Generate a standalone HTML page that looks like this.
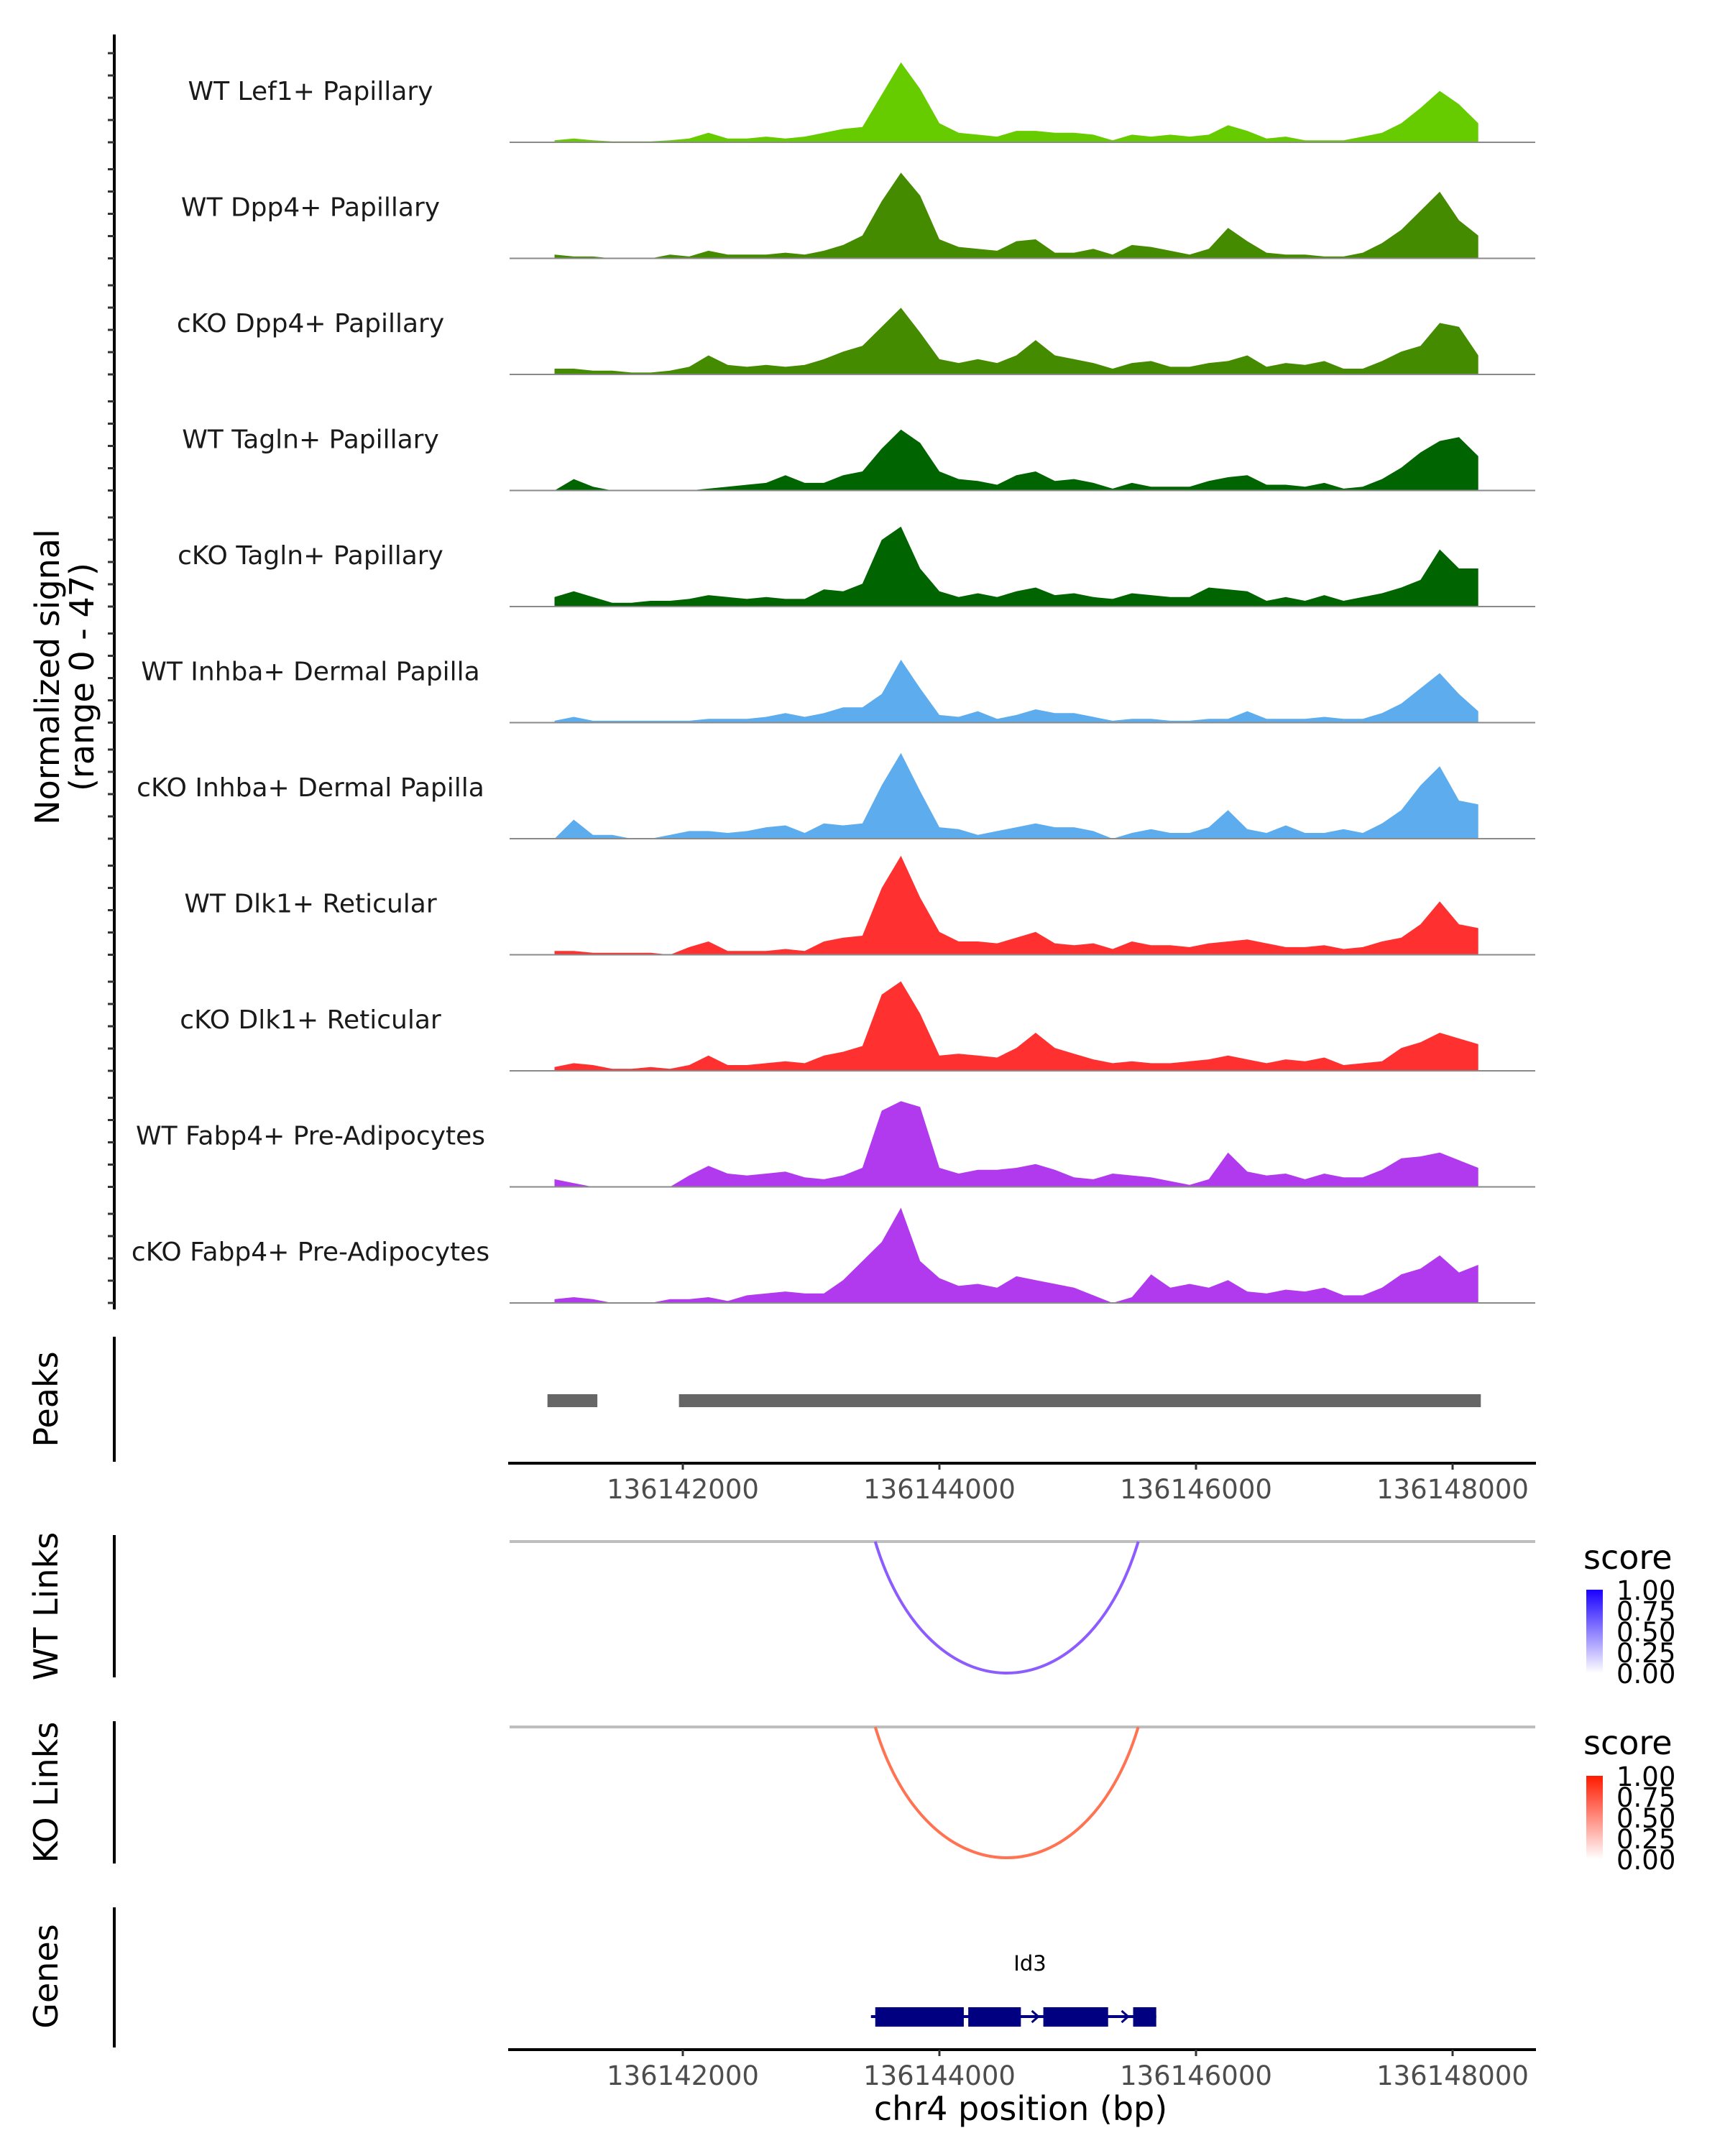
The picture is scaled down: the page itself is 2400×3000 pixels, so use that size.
<!DOCTYPE html>
<html><head><meta charset="utf-8"><style>
html,body{margin:0;padding:0;background:#fff;}
svg{display:block;font-family:"DejaVu Sans","Liberation Sans",sans-serif;}
</style></head><body>
<svg id="fig" width="2400" height="3000" viewBox="0 0 2400 3000" xmlns="http://www.w3.org/2000/svg">
<g id="tracks"></g>
<g id="yaxis"></g>
<text transform="translate(82,942) rotate(-90)" text-anchor="middle" font-size="46" fill="#000">Normalized signal</text>
<text transform="translate(130,942) rotate(-90)" text-anchor="middle" font-size="46" fill="#000">(range 0 - 47)</text>

<g id="peaks">
<line x1="159" y1="1860" x2="159" y2="2034" stroke="#000" stroke-width="4"/>
<text transform="translate(80,1947) rotate(-90)" text-anchor="middle" font-size="46">Peaks</text>
</g>
<g id="xaxis1"></g>

<g id="wtlinks">
<line x1="159" y1="2136" x2="159" y2="2334" stroke="#000" stroke-width="4"/>
<text transform="translate(80,2235) rotate(-90)" text-anchor="middle" font-size="46">WT Links</text>
<line x1="709" y1="2145" x2="2136" y2="2145" stroke="#bebebe" stroke-width="4"/>
</g>
<g id="kolinks">
<line x1="159" y1="2395" x2="159" y2="2593" stroke="#000" stroke-width="4"/>
<text transform="translate(80,2494) rotate(-90)" text-anchor="middle" font-size="46">KO Links</text>
<line x1="709" y1="2403" x2="2136" y2="2403" stroke="#bebebe" stroke-width="4"/>
</g>

<defs>
<linearGradient id="gblue" x1="0" y1="1" x2="0" y2="0"><stop offset="0" stop-color="#ffffff"/><stop offset="1" stop-color="#1a00ff"/></linearGradient>
<linearGradient id="gred" x1="0" y1="1" x2="0" y2="0"><stop offset="0" stop-color="#ffffff"/><stop offset="1" stop-color="#ff1a00"/></linearGradient>
</defs>
<g>
<text x="2203" y="2183" font-size="46">score</text>
<rect x="2207" y="2212" width="23" height="116" fill="url(#gblue)"/>
<g font-size="37" fill="#000">
<text x="2249" y="2226">1.00</text><text x="2249" y="2255">0.75</text><text x="2249" y="2284">0.50</text><text x="2249" y="2313">0.25</text><text x="2249" y="2342">0.00</text>
</g>
</g>
<g>
<text x="2203" y="2441" font-size="46">score</text>
<rect x="2207" y="2471" width="23" height="116" fill="url(#gred)"/>
<g font-size="37" fill="#000">
<text x="2249" y="2485">1.00</text><text x="2249" y="2514">0.75</text><text x="2249" y="2543">0.50</text><text x="2249" y="2572">0.25</text><text x="2249" y="2601">0.00</text>
</g>
</g>

<g id="genes">
<line x1="159" y1="2654" x2="159" y2="2849" stroke="#000" stroke-width="4"/>
<text transform="translate(80,2750) rotate(-90)" text-anchor="middle" font-size="46">Genes</text>
</g>
<g id="xaxis2"></g>
<text x="1420" y="2950" text-anchor="middle" font-size="46">chr4 position (bp)</text>
</svg>
<script>
const binStart = 136141000;
const binStep = 150;
const trackNames = ["WT Lef1+ Papillary","WT Dpp4+ Papillary","cKO Dpp4+ Papillary","WT Tagln+ Papillary","cKO Tagln+ Papillary","WT Inhba+ Dermal Papilla","cKO Inhba+ Dermal Papilla","WT Dlk1+ Reticular","cKO Dlk1+ Reticular","WT Fabp4+ Pre-Adipocytes","cKO Fabp4+ Pre-Adipocytes"];
const trackColors = ["#66CC00","#458B00","#458B00","#006400","#006400","#5CACEE","#5CACEE","#FF3030","#FF3030","#B23AEE","#B23AEE"];
const sigLef1WT = [1,2,1,0.5,0.5,0.5,1,2,5,2,2,3,2,3,5,7,8,25,42,28,10,5,4,3,6,6,5,5,4,1,4,3,4,3,4,9,6,2,3,1,1,1,3,5,10,18,27,20,10];
const sigDpp4WT = [2,1,1,0,0,0,2,1,4,2,2,2,3,2,4,7,12,30,45,33,10,6,5,4,9,10,3,3,5,2,7,6,4,2,5,16,9,3,2,2,1,1,3,8,15,25,35,20,12];
const sigDpp4KO = [3,3,2,2,1,1,2,4,10,5,4,5,4,5,8,12,15,25,35,22,8,6,8,6,10,18,10,8,6,3,6,7,4,4,6,7,10,4,6,5,7,3,3,7,12,15,27,25,10];
const sigTaglnWT = [0,6,2,0,0,0,0,0,1,2,3,4,8,4,4,8,10,22,32,25,10,6,5,3,8,10,5,6,4,1,4,2,2,2,5,7,8,3,3,2,4,1,2,6,12,20,26,28,18];
const sigTaglnKO = [5,8,5,2,2,3,3,4,6,5,4,5,4,4,9,8,12,35,42,20,8,5,7,5,8,10,6,7,5,4,7,6,5,5,10,9,8,3,5,3,6,3,5,7,10,14,30,20,20];
const sigInhbaWT = [1,3,1,1,1,1,1,1,2,2,2,3,5,3,5,8,8,15,33,18,4,3,6,2,4,7,5,5,3,1,2,2,1,1,2,2,6,2,2,2,3,2,2,5,10,18,26,15,6];
const sigInhbaKO = [0,10,2,2,0,0,2,4,4,3,4,6,7,3,8,7,8,28,45,25,6,5,2,4,6,8,6,6,4,0,3,5,3,3,6,15,5,3,7,3,3,5,3,8,15,28,38,20,18];
const sigDlk1WT = [2,2,1,1,1,1,0,4,7,2,2,2,3,2,7,9,10,35,52,30,12,7,7,6,9,12,6,5,6,3,7,5,5,4,6,7,8,6,4,4,5,3,4,7,9,16,28,16,14];
const sigDlk1KO = [2,4,3,1,1,2,1,3,8,3,3,4,5,4,8,10,13,40,47,30,8,9,8,7,12,20,12,9,6,4,5,4,4,5,6,8,6,4,6,5,7,3,4,5,12,15,20,17,14];
const sigFabp4WT = [4,2,0,0,0,0,0,6,11,7,6,7,8,5,4,6,10,40,45,42,10,7,9,9,10,12,9,5,4,7,6,5,3,1,4,18,8,6,7,4,7,5,5,9,15,16,18,14,10];
const sigFabp4KO = [2,3,2,0,0,0,2,2,3,1,4,5,6,5,5,12,22,32,50,22,13,9,10,8,14,12,10,8,4,0,3,15,8,10,8,12,6,5,7,6,8,4,4,8,15,18,25,16,20];
const signals = [sigLef1WT,sigDpp4WT,sigDpp4KO,sigTaglnWT,sigTaglnKO,sigInhbaWT,sigInhbaKO,sigDlk1WT,sigDlk1KO,sigFabp4WT,sigFabp4KO];
const peakStarts = [136140945,136141970];
const peakEnds = [136141334,136148220];
const xTicks = [136142000,136144000,136146000,136148000];
const linkStart = [136143500];
const linkEnd = [136145550];
const exonStarts = [136143500,136144225,136144810,136145510];
const exonEnds = [136144190,136144635,136145315,136145690];
const geneStart = 136143500, geneEnd = 136145690;

const NS = "http://www.w3.org/2000/svg";
function xs(bp){ return 950 + (bp - 136142000) * 0.1785; }
const PX_PER_UNIT = 2.65;
function base(i){ return 198 + i * 161.5; }
function mk(tag, attrs, parent){ const e = document.createElementNS(NS, tag); for (const k in attrs) e.setAttribute(k, attrs[k]); parent.appendChild(e); return e; }

const tracksG = document.getElementById('tracks');
const yax = document.getElementById('yaxis');
const ya = mk('line', {x1:159,y1:48,x2:159,y2:1822,stroke:'#000','stroke-width':4}, yax);


signals.forEach((sig, t) => {
  const b = base(t);
  let d = `M${xs(binStart).toFixed(1)},${b}`;
  sig.forEach((v, i) => { d += ` L${xs(binStart + i*binStep).toFixed(1)},${(b - v*PX_PER_UNIT).toFixed(1)}`; });
  d += ` L${xs(binStart + (sig.length-1)*binStep).toFixed(1)},${b} Z`;
  const p = mk('path', {d:d, fill:trackColors[t]}, tracksG);
  
  
  const bl = mk('line', {x1:709,y1:b,x2:2136,y2:b,stroke:'#8a8a8a','stroke-width':2}, tracksG);
  
  
  const lb = mk('text', {x:432,y:b-59,'text-anchor':'middle','font-size':36,fill:'#1a1a1a'}, tracksG);
  lb.textContent = trackNames[t];
  
  
  for (let k = 0; k < 5; k++) {
    const tk = mk('line', {x1:150,y1:b-k*31,x2:159,y2:b-k*31,stroke:'#333','stroke-width':3}, yax);
    
    
  }
});

const peaksG = document.getElementById('peaks');
peakStarts.forEach((s, i) => {
  const r = mk('rect', {x:xs(s),y:1940,width:xs(peakEnds[i])-xs(s),height:18,fill:'#666666'}, peaksG);
  
  
});

function xAxis(g, y){
  const l = mk('line', {x1:707,y1:y,x2:2137,y2:y,stroke:'#000','stroke-width':4}, g);
  
  
  xTicks.forEach(t => {
    const tk = mk('line', {x1:xs(t),y1:y,x2:xs(t),y2:y+9,stroke:'#333','stroke-width':3}, g);
    
    
    const tl = mk('text', {x:xs(t),y:y+49,'text-anchor':'middle','font-size':37,fill:'#4d4d4d'}, g);
    tl.textContent = String(t);
    
    
  });
}
xAxis(document.getElementById('xaxis1'), 2036);
xAxis(document.getElementById('xaxis2'), 2852);

function arc(g, top, bottom, color){
  linkStart.forEach((s, i) => {
    const x1 = xs(s), x2 = xs(linkEnd[i]);
    const c = (bottom - 0.25*top) / 0.75;
    const w = x2 - x1;
    const p = mk('path', {d:`M${x1},${top} C${x1+w*0.2},${c} ${x2-w*0.2},${c} ${x2},${top}`, fill:'none', stroke:color, 'stroke-width':4}, g);
    
    
  });
}
arc(document.getElementById('wtlinks'), 2145, 2328, '#8c5cff');
arc(document.getElementById('kolinks'), 2403, 2585, '#ff7352');

const genesG = document.getElementById('genes');
const gl = mk('line', {x1:xs(geneStart)-6,y1:2806,x2:xs(geneEnd),y2:2806,stroke:'#000080','stroke-width':4}, genesG);


exonStarts.forEach((s, i) => {
  const r = mk('rect', {x:xs(s),y:2793,width:xs(exonEnds[i])-xs(s),height:27,fill:'#000080'}, genesG);
  
  
  if (i < exonStarts.length - 1) {
    const ax = xs(exonStarts[i+1]) - 16;
    const a = mk('path', {d:`M${ax},2798 L${ax+9},2806 L${ax},2814`, fill:'none', stroke:'#000080','stroke-width':3}, genesG);
    
    
  }
});
const gn = mk('text', {x:1433,y:2742,'text-anchor':'middle','font-size':29,fill:'#000'}, genesG);
gn.textContent = 'Id3';


</script>
</body></html>
